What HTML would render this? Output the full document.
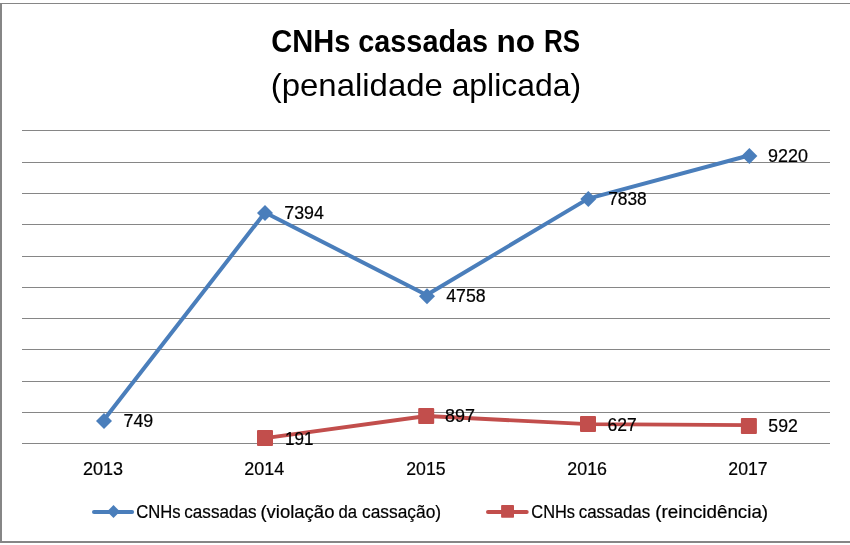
<!DOCTYPE html>
<html lang="pt-BR">
<head>
<meta charset="utf-8">
<title>CNHs cassadas no RS</title>
<style>
html,body{margin:0;padding:0;background:#fff;}
body{width:850px;height:545px;overflow:hidden;}
svg{display:block;}
text{font-family:"Liberation Sans",sans-serif;fill:#000;}
.t1{font-size:31.3px;font-weight:bold;}
.t2{font-size:31.8px;}
.lb{font-size:17.5px;stroke:#000;stroke-width:0.2px;}
.lg{font-size:17.5px;stroke:#000;stroke-width:0.2px;}
</style>
</head>
<body>
<svg width="850" height="545" viewBox="0 0 850 545">
<rect x="0" y="0" width="850" height="545" fill="#ffffff"/>
<g fill="#868686">
<rect x="0" y="3" width="850" height="1"/>
<rect x="0" y="3" width="2" height="540"/>
<rect x="0" y="541" width="850" height="2"/>
</g>
<g fill="#868686">
<rect x="22" y="130" width="808" height="1"/>
<rect x="22" y="162" width="808" height="1"/>
<rect x="22" y="193" width="808" height="1"/>
<rect x="22" y="224" width="808" height="1"/>
<rect x="22" y="256" width="808" height="1"/>
<rect x="22" y="287" width="808" height="1"/>
<rect x="22" y="318" width="808" height="1"/>
<rect x="22" y="349" width="808" height="1"/>
<rect x="22" y="381" width="808" height="1"/>
<rect x="22" y="412" width="808" height="1"/>
<rect x="22" y="443" width="808" height="1"/>
</g>
<polyline points="103.4,420.5 265.0,212.5 426.6,295.0 588.2,198.6 749.8,155.3" fill="none" stroke="#4A7EBB" stroke-width="4" stroke-linejoin="round" stroke-linecap="round"/>
<g fill="#4A7EBB">
<path d="M96 421L104 413L112 421L104 429Z"/>
<path d="M257 213L265 205L273 213L265 221Z"/>
<path d="M419 296.2L427 288.2L435 296.2L427 304.2Z"/>
<path d="M580.3 199L588.3 191L596.3 199L588.3 207Z"/>
<path d="M741.4 156L749.4 148L757.4 156L749.4 164Z"/>
</g>
<polyline points="265.0,438.2 426.6,416.0 588.2,424.2 749.8,425.2" fill="none" stroke="#C24E4C" stroke-width="3.8" stroke-linejoin="round" stroke-linecap="round"/>
<g fill="#C24E4C">
<rect x="257" y="430" width="16" height="16" rx="1"/>
<rect x="418.2" y="408" width="16" height="16" rx="1"/>
<rect x="580" y="416.1" width="16" height="16" rx="1"/>
<rect x="740.9" y="418" width="16" height="16" rx="1"/>
</g>
<line x1="94" y1="512" x2="132.1" y2="512" stroke="#4A7EBB" stroke-width="4" stroke-linecap="round"/>
<path d="M107.0 511.6L113.5 505.1L120.0 511.6L113.5 518.1Z" fill="#4A7EBB"/>
<line x1="488" y1="512" x2="526.7" y2="512" stroke="#C24E4C" stroke-width="4" stroke-linecap="round"/>
<rect x="501.1" y="505.1" width="12.9" height="12.7" rx="0.8" fill="#C24E4C"/>
<text class="t1" y="51.7"><tspan x="271.24" textLength="79.09" lengthAdjust="spacingAndGlyphs">CNHs</tspan> <tspan x="358.25" textLength="129.87" lengthAdjust="spacingAndGlyphs">cassadas</tspan> <tspan x="496.58" textLength="38.58" lengthAdjust="spacingAndGlyphs">no</tspan> <tspan x="543.94" textLength="36.08" lengthAdjust="spacingAndGlyphs">RS</tspan></text>
<text class="t2" y="95.9"><tspan x="270.73" textLength="172.18" lengthAdjust="spacingAndGlyphs">(penalidade</tspan> <tspan x="451.65" textLength="129.41" lengthAdjust="spacingAndGlyphs">aplicada)</tspan></text>
<text class="lb" x="123.54" y="426.8" textLength="29.68" lengthAdjust="spacingAndGlyphs">749</text>
<text class="lb" x="284.24" y="218.8" textLength="39.61" lengthAdjust="spacingAndGlyphs">7394</text>
<text class="lb" x="446.25" y="301.8" textLength="39.45" lengthAdjust="spacingAndGlyphs">4758</text>
<text class="lb" x="608.16" y="204.5" textLength="38.63" lengthAdjust="spacingAndGlyphs">7838</text>
<text class="lb" x="768.13" y="162" textLength="39.87" lengthAdjust="spacingAndGlyphs">9220</text>
<text class="lb" x="285.08" y="444.8" textLength="28.45" lengthAdjust="spacingAndGlyphs">191</text>
<text class="lb" x="445.13" y="421.9" textLength="29.95" lengthAdjust="spacingAndGlyphs">897</text>
<text class="lb" x="607.45" y="430.7" textLength="29.2" lengthAdjust="spacingAndGlyphs">627</text>
<text class="lb" x="768.34" y="432.2" textLength="29.52" lengthAdjust="spacingAndGlyphs">592</text>
<text class="lb" x="82.93" y="475.0" textLength="40.08" lengthAdjust="spacingAndGlyphs">2013</text>
<text class="lb" x="244.33" y="475.0" textLength="39.92" lengthAdjust="spacingAndGlyphs">2014</text>
<text class="lb" x="406.24" y="475.0" textLength="39.35" lengthAdjust="spacingAndGlyphs">2015</text>
<text class="lb" x="567.34" y="475.0" textLength="39.66" lengthAdjust="spacingAndGlyphs">2016</text>
<text class="lb" x="728.34" y="475.0" textLength="39.3" lengthAdjust="spacingAndGlyphs">2017</text>
<text class="lg" y="517.5"><tspan x="136.29" textLength="44.35" lengthAdjust="spacingAndGlyphs">CNHs</tspan> <tspan x="184.27" textLength="72.31" lengthAdjust="spacingAndGlyphs">cassadas</tspan> <tspan x="260.44" textLength="74.0" lengthAdjust="spacingAndGlyphs">(violação</tspan> <tspan x="338.58" textLength="18.59" lengthAdjust="spacingAndGlyphs">da</tspan> <tspan x="362.06" textLength="79.05" lengthAdjust="spacingAndGlyphs">cassação)</tspan></text>
<text class="lg" y="517.5"><tspan x="531.3" textLength="43.73" lengthAdjust="spacingAndGlyphs">CNHs</tspan> <tspan x="578.67" textLength="71.59" lengthAdjust="spacingAndGlyphs">cassadas</tspan> <tspan x="655.33" textLength="112.8" lengthAdjust="spacingAndGlyphs">(reincidência)</tspan></text>
</svg>
</body>
</html>
